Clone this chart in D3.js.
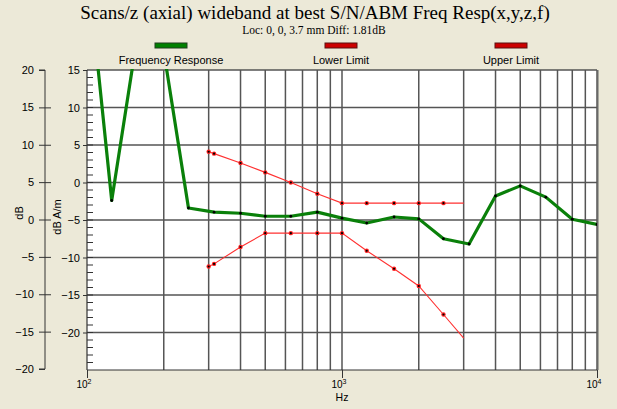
<!DOCTYPE html>
<html>
<head>
<meta charset="utf-8">
<script src="https://cdn.jsdelivr.net/npm/d3@7"></script>
<style>
  body { margin: 0; background: #ECE9D8; }
  text { font-family: "Liberation Sans", Arial, sans-serif; fill: #000; }
  .serif { font-family: "Liberation Serif", "Times New Roman", serif; }
</style>
</head>
<body>
<div id="chart"></div>
<script>
// Chart size
var svgWidth = 617;
var svgHeight = 409;

var margin = { top: 70, right: 20, bottom: 39, left: 87 };
var width = svgWidth - margin.left - margin.right;
var height = svgHeight - margin.top - margin.bottom;

// Frequency response (dB A/m) at 1/3 octave points
var respFreqs = [100, 125, 160, 200, 250, 315, 400, 500, 630, 800, 1000, 1250, 1600, 2000, 2500, 3150, 4000, 5000, 6300, 8000, 10000];
var respValues = [29.5, -2.4, 21, 17.5, -3.4, -3.95, -4.1, -4.5, -4.5, -3.95, -4.75, -5.4, -4.6, -4.85, -7.5, -8.2, -1.8, -0.45, -1.95, -4.9, -5.6];

// limit curves (dB A/m)
var limitFreqs = [300, 315, 400, 500, 630, 800, 1000, 1250, 1600, 2000, 2500, 3000];
var upperValues = [4.1, 3.85, 2.6, 1.35, 0, -1.5, -2.75, -2.75, -2.75, -2.75, -2.75, -2.75];
var lowerValues = [-11.2, -10.85, -8.6, -6.75, -6.75, -6.75, -6.75, -9.1, -11.5, -13.8, -17.6, -20.75];

// axis ticks
var dbTicks = [20, 15, 10, 5, 0, -5, -10, -15, -20];
var dbamTicks = [15, 10, 5, 0, -5, -10, -15, -20];
var decadeTicks = [100, 1000, 10000];
var decadeLabels = ["2", "3", "4"];

var legendNames = ["Frequency Response", "Lower Limit", "Upper Limit"];
var legendColors = ["#008000", "#cc0000", "#cc0000"];

var svg = d3.select("#chart")
  .append("svg")
  .attr("width", svgWidth)
  .attr("height", svgHeight);

svg.append("rect")
  .attr("width", svgWidth)
  .attr("height", svgHeight)
  .attr("fill", "#ECE9D8");

// titles
svg.append("text")
  .attr("class", "serif")
  .attr("x", 315)
  .attr("y", 19)
  .attr("text-anchor", "middle")
  .attr("font-size", 19)
  .text("Scans/z (axial) wideband at best S/N/ABM Freq Resp(x,y,z,f)");

svg.append("text")
  .attr("class", "serif")
  .attr("x", 314)
  .attr("y", 33.5)
  .attr("text-anchor", "middle")
  .attr("font-size", 11.5)
  .text("Loc: 0, 0, 3.7 mm Diff: 1.81dB");

// legend
var legend = svg.selectAll("g.legend")
  .data(legendNames)
  .enter()
  .append("g")
  .attr("class", "legend")
  .attr("transform", (d, i) => `translate(${171 + i * 170}, 0)`);

legend.append("rect")
  .attr("x", -16)
  .attr("y", 43)
  .attr("width", 32)
  .attr("height", 5)
  .attr("fill", (d, i) => legendColors[i])
  .attr("stroke", (d, i) => i === 0 ? "#1f3f1f" : "#5a1010")
  .attr("stroke-width", 1);

legend.append("text")
  .attr("y", 64)
  .attr("text-anchor", "middle")
  .attr("font-size", 11)
  .text(d => d);

// scales
var xScale = d3.scaleLog()
  .domain([100, 10000])
  .range([0, width]);

var yScale = d3.scaleLinear()
  .domain([-25, 15])
  .range([height, 0]);

var yDbScale = d3.scaleLinear()
  .domain([-20, 20])
  .range([height - 1, 0]);

var chartGroup = svg.append("g")
  .attr("transform", `translate(${margin.left}, ${margin.top})`);

chartGroup.append("rect")
  .attr("width", width)
  .attr("height", height)
  .attr("fill", "#fff");

// right edge shadow
chartGroup.append("line")
  .attr("x1", width + 1).attr("x2", width + 1)
  .attr("y1", 0).attr("y2", height)
  .attr("stroke", "#a8a8a0")
  .attr("stroke-width", 2);

// grid
var vGrid = xScale.ticks().filter(f => f > 100 && f <= 10000);
chartGroup.append("g")
  .selectAll("line")
  .data(vGrid)
  .enter()
  .append("line")
  .attr("x1", d => xScale(d)).attr("x2", d => xScale(d))
  .attr("y1", 0).attr("y2", height)
  .attr("stroke", "#555")
  .attr("stroke-width", 1.5);

chartGroup.append("g")
  .selectAll("line")
  .data(dbamTicks)
  .enter()
  .append("line")
  .attr("x1", 0).attr("x2", width)
  .attr("y1", d => yScale(d)).attr("y2", d => yScale(d))
  .attr("stroke", "#555")
  .attr("stroke-width", 1.5);

// left inner axis (dB A/m)
var leftAxis = d3.axisLeft(yScale)
  .tickValues(dbamTicks)
  .tickSize(4)
  .tickPadding(3)
  .tickFormat(d3.format("d"));

var yAxisG = chartGroup.append("g").call(leftAxis);
yAxisG.select(".domain").remove();
yAxisG.selectAll("text").attr("font-size", 11).attr("font-family", "Liberation Sans, Arial, sans-serif").attr("fill", "#222");
yAxisG.selectAll("line").attr("stroke", "#333");

// minor ticks every 1 unit
chartGroup.append("g")
  .selectAll("line")
  .data(d3.range(-24, 15))
  .enter()
  .append("line")
  .attr("x1", 0).attr("x2", 6)
  .attr("y1", d => yScale(d)).attr("y2", d => yScale(d))
  .attr("stroke", "#333");

chartGroup.append("line")
  .attr("x1", 0).attr("x2", 0)
  .attr("y1", 0).attr("y2", height)
  .attr("stroke", "#333")
  .attr("stroke-width", 1.2);

// outer dB axis
var dbAxis = d3.axisLeft(yDbScale)
  .tickValues(dbTicks)
  .tickSize(6)
  .tickPadding(5)
  .tickFormat(d3.format("d"));

var dbAxisG = chartGroup.append("g")
  .attr("transform", `translate(${45 - margin.left}, 0)`)
  .call(dbAxis);
dbAxisG.select(".domain").attr("stroke", "#333").attr("d", `M-6,0H0V${height - 1}H-6`);
dbAxisG.selectAll("text").attr("font-size", 11).attr("font-family", "Liberation Sans, Arial, sans-serif").attr("fill", "#222");
dbAxisG.selectAll(".tick line")
  .attr("stroke", "#333")
  .attr("x2", -6)
  .attr("x1", d => (d === 20 || d === -20) ? 0 : 6);

// x axis
var bottomAxis = d3.axisBottom(xScale)
  .tickValues(decadeTicks)
  .tickSize(8)
  .tickPadding(3)
  .tickFormat("");

var xAxisG = chartGroup.append("g")
  .attr("transform", `translate(0, ${height})`)
  .call(bottomAxis);
xAxisG.select(".domain").attr("stroke", "#333").attr("d", `M0,0H${width}`);
xAxisG.selectAll("line").attr("stroke", "#333");

var xLabels = chartGroup.append("g")
  .selectAll("text")
  .data(decadeTicks)
  .enter()
  .append("text")
  .attr("x", d => xScale(d) - 3)
  .attr("y", height + 18)
  .attr("text-anchor", "middle")
  .attr("font-size", 10)
  .attr("fill", "#222");
xLabels.append("tspan").text("10");
xLabels.append("tspan")
  .attr("dy", -4)
  .attr("font-size", 7)
  .text((d, i) => decadeLabels[i]);

chartGroup.append("text")
  .attr("x", xScale(1000))
  .attr("y", height + 31)
  .attr("text-anchor", "middle")
  .attr("font-size", 10.5)
  .attr("fill", "#222")
  .text("Hz");

// axis titles
svg.append("text")
  .attr("transform", "rotate(-90)")
  .attr("x", -213)
  .attr("y", 23)
  .attr("text-anchor", "middle")
  .attr("font-size", 11)
  .attr("fill", "#222")
  .text("dB");

svg.append("text")
  .attr("transform", "rotate(-90)")
  .attr("x", -217)
  .attr("y", 61)
  .attr("text-anchor", "middle")
  .attr("font-size", 11)
  .attr("fill", "#222")
  .text("dB A/m");

// clip for data
svg.append("defs").append("clipPath")
  .attr("id", "plotClip")
  .append("rect")
  .attr("x", 0).attr("y", -1)
  .attr("width", width).attr("height", height + 1);

var plot = chartGroup.append("g").attr("clip-path", "url(#plotClip)");

var line = d3.line()
  .x(d => xScale(d[0]))
  .y(d => yScale(d[1]));

var respData = respFreqs.map((f, i) => [f, respValues[i]]);
var upperData = limitFreqs.map((f, i) => [f, upperValues[i]]);
var lowerData = limitFreqs.map((f, i) => [f, lowerValues[i]]);

[upperData, lowerData].forEach(function(data) {
  plot.append("path")
    .datum(data)
    .attr("fill", "none")
    .attr("stroke", "#ff3030")
    .attr("stroke-width", 1.1)
    .attr("d", line);

  // end point of limit curve is not marked
  var marks = plot.append("g")
    .selectAll("g")
    .data(data.slice(0, -1))
    .enter();
  marks.append("circle")
    .attr("cx", d => xScale(d[0]))
    .attr("cy", d => yScale(d[1]))
    .attr("r", 2.2)
    .attr("fill", "#ff2020");
  marks.append("circle")
    .attr("cx", d => xScale(d[0]))
    .attr("cy", d => yScale(d[1]))
    .attr("r", 1.1)
    .attr("fill", "#000");
});

plot.append("path")
  .datum(respData)
  .attr("fill", "none")
  .attr("stroke", "#0a800a")
  .attr("stroke-width", 3.2)
  .attr("stroke-linejoin", "round")
  .attr("d", line);

plot.append("g")
  .selectAll("circle")
  .data(respData)
  .enter()
  .append("circle")
  .attr("cx", d => xScale(d[0]))
  .attr("cy", d => yScale(d[1]))
  .attr("r", 1.4)
  .attr("fill", "#000");
</script>
</body>
</html>
